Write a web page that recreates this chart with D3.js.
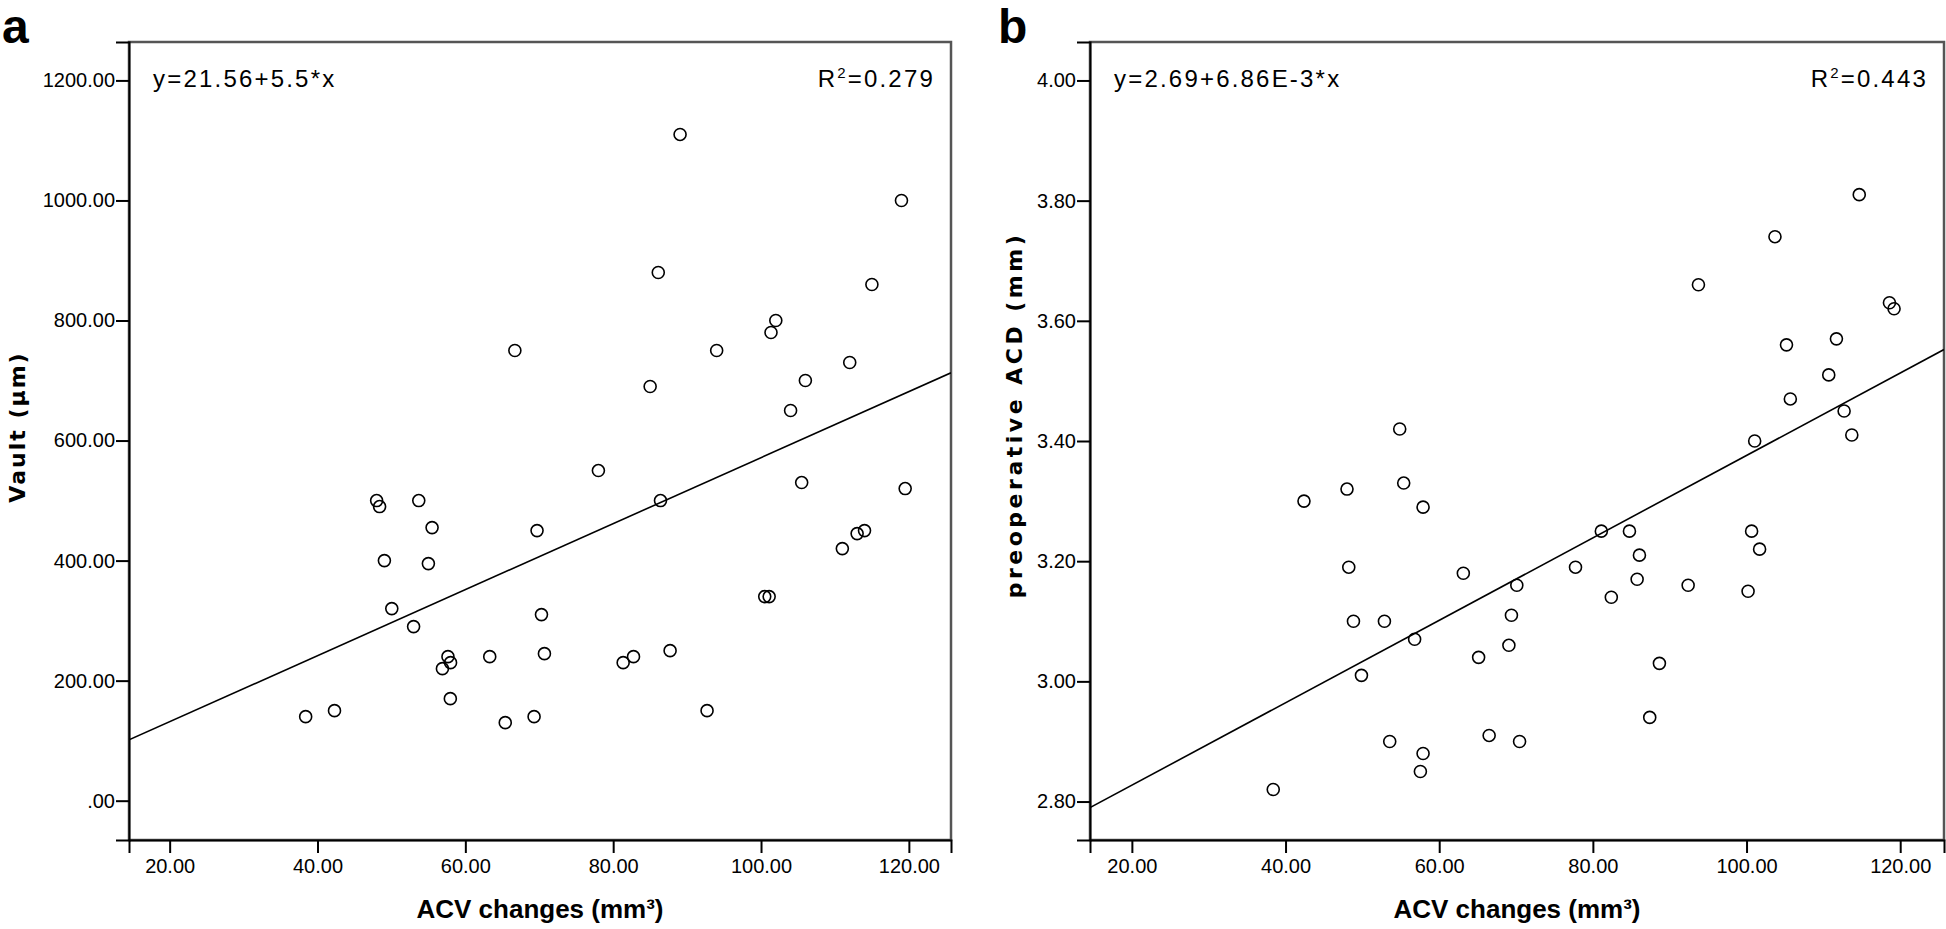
<!DOCTYPE html>
<html>
<head>
<meta charset="utf-8">
<script src="https://cdn.jsdelivr.net/npm/d3@7"></script>
<style>
  html, body { margin: 0; padding: 0; background: #fff; }
  svg { display: block; }
  text { font-family: "Liberation Sans", Arial, sans-serif; fill: #000; }
  .ytitle { font-family: "DejaVu Sans", Verdana, sans-serif; }
</style>
</head>
<body>
<svg id="chart" width="1946" height="929"></svg>
<script>
// ---------- data ----------
const acvA = [38.4, 42.3, 48.0, 48.4, 49.05, 50.05, 53.0, 53.7, 55.0, 55.5, 56.9, 57.65, 58.0, 57.97, 63.3,
  65.4, 66.7, 69.3, 69.7, 70.3, 70.7, 78.0, 81.35, 82.75, 85.0, 86.1, 86.4, 87.7, 89.05, 92.7,
  94.0, 100.5, 101.1, 101.35, 102.0, 104.0, 105.5, 106.0, 111.0, 112.0, 113.0, 114.0, 115.0, 119.0, 119.5];
const vault = [140, 150, 500, 490, 400, 320, 290, 500, 395, 455, 220, 240, 230, 170, 240,
  130, 750, 140, 450, 310, 245, 550, 230, 240, 690, 880, 500, 250, 1110, 150,
  750, 340, 340, 780, 800, 650, 530, 700, 420, 730, 445, 450, 860, 1000, 520];

const acvB = [38.4, 42.4, 48.0, 48.23, 48.84, 49.88, 52.87, 53.56, 54.86, 55.38, 56.8, 57.55, 57.9, 57.9, 63.14,
  65.13, 66.5, 69.07, 69.4, 70.1, 70.46, 77.74, 81.1, 82.4, 84.76, 85.76, 86.06, 87.4, 88.66, 92.4,
  93.74, 100.2, 100.66, 101.06, 101.7, 103.7, 105.2, 105.7, 110.7, 111.7, 112.7, 113.7, 114.67, 118.6, 119.2];
const acd = [2.82, 3.30, 3.32, 3.19, 3.10, 3.01, 3.10, 2.90, 3.42, 3.33, 3.07, 2.85, 2.88, 3.29, 3.18,
  3.04, 2.91, 3.06, 3.11, 3.16, 2.90, 3.19, 3.25, 3.14, 3.25, 3.17, 3.21, 2.94, 3.03, 3.16,
  3.66, 3.15, 3.25, 3.40, 3.22, 3.74, 3.56, 3.47, 3.51, 3.57, 3.45, 3.41, 3.81, 3.63, 3.62];

const xTicks = [20, 40, 60, 80, 100, 120];
const yTicksA = [0, 200, 400, 600, 800, 1000, 1200];
const yTicksB = [2.8, 3.0, 3.2, 3.4, 3.6, 3.8, 4.0];

const fitA = [21.56, 5.5];      // intercept, slope
const fitB = [2.69, 6.86e-3];

const panelLetters = ["a", "b"];
const eqTexts = ["y=21.56+5.5*x", "y=2.69+6.86E-3*x"];
const r2Texts = ["0.279", "0.443"];
const xTitle = "ACV changes (mm³)";
const yTitles = ["Vault (μm)", "preoperative ACD (mm)"];

// ---------- drawing ----------
const svg = d3.select("#chart");
const fmt = v => d3.format(".2f")(v).replace(/^0\./, ".");

const panels = [
  { box: [129, 951, 42, 840], xDom: [14.5, 125.7], yDom: [-65.5, 1264], xs: acvA, ys: vault, yTicks: yTicksA,
    fit: fitA, letter: panelLetters[0], letterX: 2, eq: eqTexts[0], r2: r2Texts[0], yTitle: yTitles[0],
    yTitleX: 25, yTitleY: 427, yTitleLS: 2 },
  { box: [1090, 1944, 42, 840], xDom: [14.55, 125.7], yDom: [2.736, 4.064], xs: acvB, ys: acd, yTicks: yTicksB,
    fit: fitB, letter: panelLetters[1], letterX: 998, eq: eqTexts[1], r2: r2Texts[1], yTitle: yTitles[1],
    yTitleX: 1022, yTitleY: 415, yTitleLS: 3.5 }
];

panels.forEach((p, i) => {
  const [L, R, T, B] = p.box;
  const x = d3.scaleLinear().domain(p.xDom).range([L, R]);
  const y = d3.scaleLinear().domain(p.yDom).range([B, T]);
  const g = svg.append("g");

  svg.append("clipPath").attr("id", "clip" + i)
    .append("rect").attr("x", L).attr("y", T).attr("width", R - L).attr("height", B - T);

  // frame
  g.append("rect").attr("x", L).attr("y", T).attr("width", R - L).attr("height", B - T)
    .attr("fill", "none").attr("stroke", "#555").attr("stroke-width", 2.5);

  // axes
  const ax = g.append("g").attr("transform", `translate(0,${B})`)
    .call(d3.axisBottom(x).tickValues(xTicks).tickSize(13).tickPadding(6).tickFormat(fmt));
  const ay = g.append("g").attr("transform", `translate(${L},0)`)
    .call(d3.axisLeft(y).tickValues(p.yTicks).tickSize(13).tickPadding(1).tickFormat(fmt));
  [ax, ay].forEach(a => {
    a.select(".domain").attr("stroke", "#000").attr("stroke-width", 2);
    a.selectAll(".tick line").attr("stroke", "#000").attr("stroke-width", 2);
    a.selectAll(".tick text").style("font-size", "20px").attr("fill", "#000");
  });

  // regression line
  const line = d3.line().x(d => x(d)).y(d => y(p.fit[0] + p.fit[1] * d));
  g.append("path").datum(p.xDom).attr("d", line).attr("clip-path", `url(#clip${i})`)
    .attr("fill", "none").attr("stroke", "#000").attr("stroke-width", 1.6);

  // points
  g.selectAll("circle.pt").data(p.xs.map((v, k) => [v, p.ys[k]])).join("circle")
    .attr("class", "pt").attr("cx", d => x(d[0])).attr("cy", d => y(d[1])).attr("r", 6)
    .attr("fill", "none").attr("stroke", "#000").attr("stroke-width", 1.6);

  // annotations
  g.append("text").attr("x", L + 24).attr("y", 87).style("font-size", "24px")
    .style("letter-spacing", "2.2px").text(p.eq);
  const r2 = g.append("text").attr("x", R - 16).attr("y", 87).attr("text-anchor", "end")
    .style("font-size", "24px").style("letter-spacing", "2.2px");
  r2.append("tspan").text("R");
  r2.append("tspan").attr("dy", -9).style("font-size", "15px").text("2");
  r2.append("tspan").attr("dy", 9).text("=" + p.r2);

  // axis titles
  g.append("text").attr("x", (L + R) / 2).attr("y", 918).attr("text-anchor", "middle")
    .style("font-size", "26px").style("font-weight", "bold").text(xTitle);
  g.append("text").attr("class", "ytitle")
    .attr("transform", `translate(${p.yTitleX},${p.yTitleY}) rotate(-90)`)
    .attr("text-anchor", "middle").style("font-size", "22px").style("font-weight", "bold")
    .style("letter-spacing", p.yTitleLS + "px").text(p.yTitle);

  // panel letter
  svg.append("text").attr("x", p.letterX).attr("y", 43).style("font-size", "48px")
    .style("font-weight", "bold").text(p.letter);
});
</script>
</body>
</html>
